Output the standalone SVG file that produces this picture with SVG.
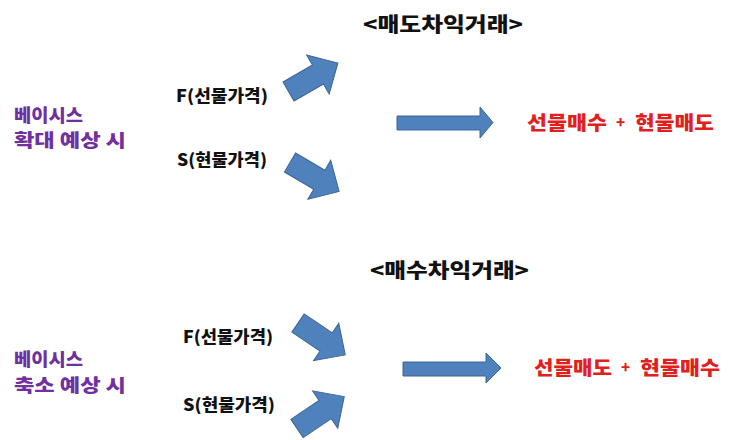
<svg xmlns="http://www.w3.org/2000/svg" width="743" height="440" viewBox="0 0 743 440">
  <style>
    text { font-family: "Noto Sans CJK KR", "Noto Sans", sans-serif; font-weight: 900; }
    .title { font-size: 20px; fill: #111111; }
    .price { font-size: 16.5px; fill: #111111; }
    .basis { font-size: 18px; fill: #7030a0; }
    .result { font-size: 19px; fill: #e0201c; }
    .plus { font-size: 15px; fill: #e0201c; }
    .arrow { fill: #4f81bd; stroke: #3c6694; stroke-width: 1; stroke-linejoin: miter; }
  </style>
  <defs>
    <path id="diag" d="M0,-11 L34,-11 L34,-22.5 L57,0 L34,22.5 L34,11 L0,11 Z"/>
  </defs>
  <rect width="743" height="440" fill="#ffffff"/>

  <g id="title-sell">
    <text class="title" x="363" y="32" textLength="160" lengthAdjust="spacingAndGlyphs">&lt;매도차익거래&gt;</text>
  </g>
  <g id="title-buy">
    <text class="title" x="370" y="278" textLength="159" lengthAdjust="spacingAndGlyphs">&lt;매수차익거래&gt;</text>
  </g>

  <g id="basis-widen">
    <text class="basis" x="14" y="122" textLength="69" lengthAdjust="spacingAndGlyphs">베이시스</text>
    <text class="basis" x="14" y="147" textLength="112" lengthAdjust="spacingAndGlyphs">확대 예상 시</text>
  </g>
  <g id="basis-narrow">
    <text class="basis" x="14" y="366" textLength="69" lengthAdjust="spacingAndGlyphs">베이시스</text>
    <text class="basis" x="14" y="392" textLength="112" lengthAdjust="spacingAndGlyphs">축소 예상 시</text>
  </g>

  <g id="f-top">
    <text class="price" x="176" y="102" textLength="92" lengthAdjust="spacingAndGlyphs">F(선물가격)</text>
  </g>
  <g id="s-top">
    <text class="price" x="177" y="166" textLength="90" lengthAdjust="spacingAndGlyphs">S(현물가격)</text>
  </g>
  <g id="f-bottom">
    <text class="price" x="183" y="343" textLength="90" lengthAdjust="spacingAndGlyphs">F(선물가격)</text>
  </g>
  <g id="s-bottom">
    <text class="price" x="183" y="411" textLength="92" lengthAdjust="spacingAndGlyphs">S(현물가격)</text>
  </g>

  <g id="result-sell">
    <text class="result" x="527" y="130" textLength="80" lengthAdjust="spacingAndGlyphs">선물매수</text>
    <text class="plus" x="616" y="128">+</text>
    <text class="result" x="635" y="130" textLength="79" lengthAdjust="spacingAndGlyphs">현물매도</text>
  </g>
  <g id="result-buy">
    <text class="result" x="534" y="375" textLength="78" lengthAdjust="spacingAndGlyphs">선물매도</text>
    <text class="plus" x="621" y="373">+</text>
    <text class="result" x="640" y="375" textLength="80" lengthAdjust="spacingAndGlyphs">현물매수</text>
  </g>

  <g id="connectors">
    <use href="#diag" class="arrow" transform="translate(288.5,91.5) rotate(-30)"/>
    <use href="#diag" class="arrow" transform="translate(290,162.5) rotate(30.5)"/>
    <path class="arrow" d="M397,116 H480 V107 L493,122.5 L480,138 V130 H397 Z"/>
    <use href="#diag" class="arrow" transform="translate(298,323) rotate(34)"/>
    <use href="#diag" class="arrow" transform="translate(297,428.5) rotate(-34)"/>
    <path class="arrow" d="M403,362 H486 V353 L501,368 L486,383 V376 H403 Z"/>
  </g>
</svg>
